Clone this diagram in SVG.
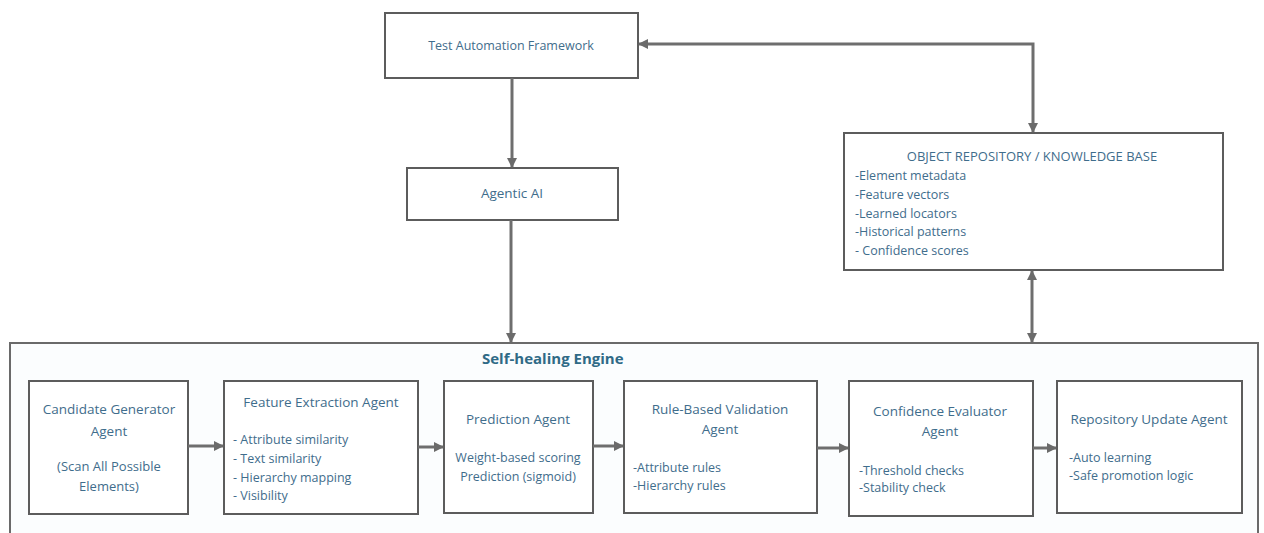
<svg xmlns="http://www.w3.org/2000/svg" width="1264" height="533" viewBox="0 0 1264 533">
  <defs>
    <marker id="arrow" viewBox="0 0 10 10" refX="9" refY="5" markerWidth="10" markerHeight="10" markerUnits="userSpaceOnUse" orient="auto-start-reverse">
      <path d="M0,0 L10,5 L0,10 z" fill="#6b6b6b"/>
    </marker>
    <style>
      .box { fill: #ffffff; stroke: #5c5c5c; stroke-width: 2; }
      .frame { fill: #fbfdfe; stroke: #6a6a6a; stroke-width: 2; }
      .wire { fill: none; stroke: #6e6e6e; stroke-width: 3; }
      .title { font-family: "Open Sans", "Liberation Sans", sans-serif; font-size: 13.5px; fill: #3f6d8c; text-anchor: middle; }
      .small-title { font-size: 12.5px; }
      .head { font-family: "Open Sans", "Liberation Sans", sans-serif; font-size: 13px; fill: #3f6d8c; text-anchor: middle; }
      .item { font-family: "Open Sans", "Liberation Sans", sans-serif; font-size: 12.5px; fill: #3f6d8c; }
      .note { font-size: 13px; }
      .ctr { text-anchor: middle; }
      .engine { font-family: "Open Sans", "Liberation Sans", sans-serif; font-size: 15px; font-weight: bold; fill: #2f6a86; }
    </style>
  </defs>

  <rect width="1264" height="533" fill="#ffffff"/>

  <!-- Self-healing engine container (runs off the bottom edge) -->
  <g id="self-healing-engine">
    <rect class="frame" x="10" y="343" width="1248" height="200"/>
    <text class="engine" x="482" y="364">Self-healing Engine</text>
  </g>

  <g id="test-automation-framework">
    <rect class="box" x="385" y="13" width="253" height="65"/>
    <text class="title small-title" x="511" y="50">Test Automation Framework</text>
  </g>

  <g id="agentic-ai">
    <rect class="box" x="407" y="168" width="211" height="52"/>
    <text class="title" x="512" y="198">Agentic AI</text>
  </g>

  <g id="object-repository">
    <rect class="box" x="844" y="133" width="379" height="137"/>
    <text class="head" x="1032" y="161">OBJECT REPOSITORY / KNOWLEDGE BASE</text>
    <text class="item" x="855" y="180">-Element metadata</text>
    <text class="item" x="855" y="199">-Feature vectors</text>
    <text class="item" x="855" y="218">-Learned locators</text>
    <text class="item" x="855" y="236">-Historical patterns</text>
    <text class="item" x="855" y="255">- Confidence scores</text>
  </g>

  <g id="candidate-generator">
    <rect class="box" x="29" y="381" width="159" height="133"/>
    <text class="title" x="109" y="414">Candidate Generator</text>
    <text class="title" x="109" y="436">Agent</text>
    <text class="item note ctr" x="109" y="471">(Scan All Possible</text>
    <text class="item note ctr" x="109" y="491">Elements)</text>
  </g>

  <g id="feature-extraction">
    <rect class="box" x="224" y="381" width="194" height="133"/>
    <text class="title" x="321" y="407">Feature Extraction Agent</text>
    <text class="item" x="233" y="444">- Attribute similarity</text>
    <text class="item" x="233" y="463">- Text similarity</text>
    <text class="item" x="233" y="482">- Hierarchy mapping</text>
    <text class="item" x="233" y="500">- Visibility</text>
  </g>

  <g id="prediction">
    <rect class="box" x="444" y="381" width="149" height="132"/>
    <text class="title" x="518" y="424">Prediction Agent</text>
    <text class="item ctr" x="518" y="462">Weight-based scoring</text>
    <text class="item ctr" x="518" y="481">Prediction (sigmoid)</text>
  </g>

  <g id="rule-validation">
    <rect class="box" x="624" y="381" width="193" height="132"/>
    <text class="title" x="720" y="414">Rule-Based Validation</text>
    <text class="title" x="720" y="434">Agent</text>
    <text class="item" x="633" y="472">-Attribute rules</text>
    <text class="item" x="633" y="490">-Hierarchy rules</text>
  </g>

  <g id="confidence-evaluator">
    <rect class="box" x="849" y="381" width="184" height="135"/>
    <text class="title" x="940" y="416">Confidence Evaluator</text>
    <text class="title" x="940" y="436">Agent</text>
    <text class="item" x="859" y="475">-Threshold checks</text>
    <text class="item" x="859" y="492">-Stability check</text>
  </g>

  <g id="repository-update">
    <rect class="box" x="1057" y="381" width="185" height="132"/>
    <text class="title" x="1149" y="424">Repository Update Agent</text>
    <text class="item" x="1069" y="462">-Auto learning</text>
    <text class="item" x="1069" y="480">-Safe promotion logic</text>
  </g>

  <g id="connectors">
    <line class="wire" x1="512" y1="78" x2="512" y2="167" marker-end="url(#arrow)"/>
    <line class="wire" x1="511" y1="220" x2="511" y2="342" marker-end="url(#arrow)"/>
    <polyline class="wire" points="639,44 1033,44 1033,132" marker-start="url(#arrow)" marker-end="url(#arrow)"/>
    <line class="wire" x1="1032" y1="271" x2="1032" y2="342" marker-start="url(#arrow)" marker-end="url(#arrow)"/>
    <line class="wire" x1="188" y1="446" x2="223" y2="446" marker-end="url(#arrow)"/>
    <line class="wire" x1="418" y1="447" x2="443" y2="447" marker-end="url(#arrow)"/>
    <line class="wire" x1="593" y1="446" x2="623" y2="446" marker-end="url(#arrow)"/>
    <line class="wire" x1="817" y1="448" x2="848" y2="448" marker-end="url(#arrow)"/>
    <line class="wire" x1="1033" y1="448" x2="1056" y2="448" marker-end="url(#arrow)"/>
  </g>
</svg>
